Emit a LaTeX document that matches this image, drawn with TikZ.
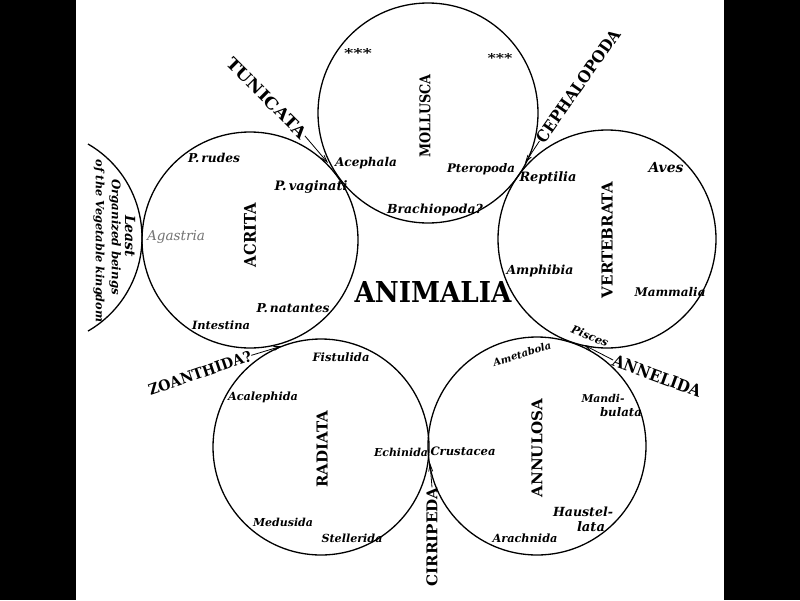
\documentclass[tikz,border=0pt]{standalone}
\usepackage{fontspec}
\setmainfont{DejaVu Serif}
\usepackage{graphicx}
\usetikzlibrary{arrows.meta}
\newcommand\fw[2]{\resizebox{#1pt}{!}{#2}}
\newcommand\fwh[3]{\resizebox{#1pt}{#2pt}{#3}}
\begin{document}
\begin{tikzpicture}[x=1pt,y=-1pt,
  ring/.style={circle,draw,line width=1.3pt,inner sep=0pt,minimum size=#1},
  it/.style={font=\fontsize{10.5}{12}\selectfont\bfseries\itshape, inner sep=0pt},
  grp/.style={font=\fontsize{12}{14}\selectfont\bfseries, inner sep=0pt, rotate=90},
  caps/.style={font=\fontsize{12}{14}\selectfont\bfseries, inner sep=0pt},
  arr/.style={-{Straight Barb[length=7pt,width=4pt]}, line width=0.8pt}]
\useasboundingbox (0,0) rectangle (800,600);
\fill[white] (0,0) rectangle (800,600);
\fill[black] (0,0) rectangle (76,600);
\fill[black] (724,0) rectangle (800,600);

% circles
\node[ring=220pt] (moll) at (428,113) {};
\node[ring=216pt] (acr) at (250,240) {};
\node[ring=218pt] (vert) at (607,239) {};
\node[ring=216pt] (rad) at (321,447) {};
\node[ring=218pt] (annu) at (537,446) {};
\draw[line width=1.3pt] (88,144) arc[start angle=60, end angle=-60, radius=108pt];

% junctions
\coordinate (j1) at (328,163);
\coordinate (j2) at (525,163);
\coordinate (j3) at (282,346);
\coordinate (j4) at (584,345);
\coordinate (j5) at (430,463);

% centre
\node[caps] (anim) at (433,292) {\fwh{157}{21}{ANIMALIA}};

% group names
\node[grp] (tmoll) at (425,116) {\fwh{83}{11}{MOLLUSCA}};
\node[grp] (tacr) at (250,235) {\fwh{64}{12}{ACRITA}};
\node[grp] (tvert) at (607,240) {\fwh{116}{11}{VERTEBRATA}};
\node[grp] (trad) at (322,449) {\fwh{77}{11}{RADIATA}};
\node[grp] (tannu) at (537,448) {\fwh{99}{11}{ANNULOSA}};

% Mollusca
\node[caps] (st1) at (358,53) {\fwh{28}{9}{***}};
\node[caps] (st2) at (500,58) {\fwh{25}{9}{***}};
\node[it] (aceph) at (366,163) {\fw{62}{Acephala}};
\node[it] (ptero) at (481,169) {\fw{68}{Pteropoda}};
\node[it] (brach) at (435,210) {\fw{96}{Brachiopoda?}};

% Acrita
\node[it] (prud) at (214,158) {\fw{52}{P.\,rudes}};
\node[it] (pvag) at (311,187) {\fw{73}{P.\,vaginati}};
\node[it, font=\fontsize{10.5}{12}\selectfont\itshape, text=black!55] (agas) at (176,237) {\fw{58}{Agastria}};
\node[it] (pnat) at (293,308) {\fw{73}{P.\,natantes}};
\node[it] (intes) at (221,325) {\fw{58}{Intestina}};

% Vertebrata
\node[it] (rept) at (548,178) {\fw{57}{Reptilia}};
\node[it] (aves) at (666,168) {\fw{35}{Aves}};
\node[it] (amph) at (540,271) {\fw{67}{Amphibia}};
\node[it] (mamm) at (670,292) {\fw{71}{Mammalia}};
\node[it, rotate=-22] (pisc) at (590,336) {\fw{39}{Pisces}};

% Radiata
\node[it] (fist) at (341,357) {\fw{57}{Fistulida}};
\node[it] (acal) at (263,397) {\fw{70}{Acalephida}};
\node[it] (echi) at (401,452) {\fw{54}{Echinida}};
\node[it] (medu) at (283,522) {\fw{60}{Medusida}};
\node[it] (stel) at (352,538) {\fw{61}{Stellerida}};

% Annulosa
\node[it, rotate=17] (amet) at (522,354) {\fw{60}{Ametabola}};
\node[it] (mand) at (603,398) {\fw{43}{Mandi-}};
\node[it] (bula) at (621,412) {\fw{42}{bulata}};
\node[it] (crus) at (463,451) {\fw{65}{Crustacea}};
\node[it] (haus) at (583,512) {\fw{60}{Haustel-}};
\node[it] (lata) at (591,527) {\fw{28}{lata}};
\node[it] (arach) at (525,538) {\fw{65}{Arachnida}};

% left partial circle text
\node[it, rotate=-90] (least) at (130,236) {\fw{42}{Least}};
\node[it, rotate=-90] (organ) at (115,237) {\fw{116}{Organized beings}};
\node[it, rotate=-90] (veget) at (99,241) {\fw{163}{of the Vegetable kingdom}};

% outer labels
\node[caps, rotate=-45] (tun) at (267,98) {\fwh{107}{12}{TUNICATA}};
\node[caps, rotate=55] (ceph) at (578,86) {\fwh{134}{12}{CEPHALOPODA}};
\node[caps, rotate=19] (zoa) at (200,373) {\fwh{108}{11}{ZOANTHIDA?}};
\node[caps, rotate=-20] (anne) at (657,376) {\fwh{93}{12}{ANNELIDA}};
\node[caps, rotate=90] (cirr) at (432,537) {\fwh{99}{11}{CIRRIPEDA}};

% arrows
\draw[arr] (tun.east) -- (j1);
\draw[arr] (ceph.west) -- (j2);
\draw[arr] (zoa.east) -- (j3);
\draw[arr] (anne.west) -- (j4);
\draw[arr] (cirr.east) -- (j5);
\end{tikzpicture}
\end{document}
